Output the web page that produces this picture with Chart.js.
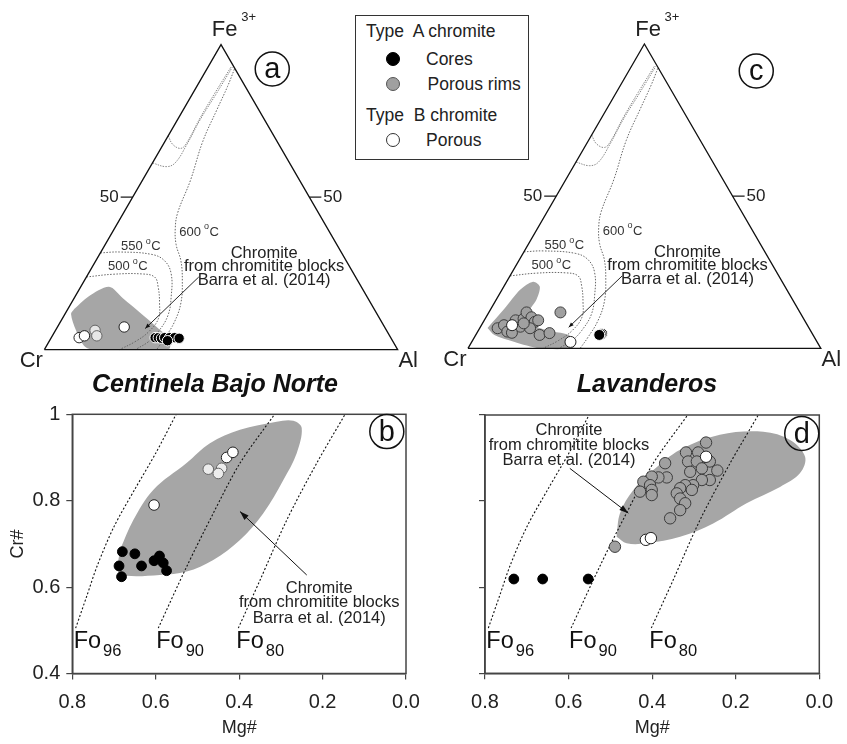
<!DOCTYPE html>
<html lang="en">
<head>
<meta charset="utf-8">
<title>Chromite compositions – Centinela Bajo Norte and Lavanderos</title>
<script src="https://cdn.jsdelivr.net/npm/chart.js@4.4.1/dist/chart.umd.min.js"></script>
<style>
  html,body{margin:0;padding:0;background:#fff;}
  body{position:relative;width:847px;height:744px;overflow:hidden;font-family:"Liberation Sans",Arial,Helvetica,sans-serif;color:#222;}
  canvas{position:absolute;display:block;}
  #ca{left:0;top:0;} #cc{left:423px;top:0;} #cb{left:0;top:392px;} #cd{left:423px;top:392px;}
  .title{position:absolute;top:368px;height:30px;line-height:30px;font-weight:bold;font-style:italic;font-size:25px;text-align:center;color:#111;white-space:nowrap;}
  #legend{position:absolute;left:355px;top:15px;width:174px;height:145px;border:1.5px solid #333;background:#fff;box-sizing:border-box;}
  #legend .t{position:absolute;font-size:17.5px;line-height:20px;white-space:nowrap;color:#222;}
  #legend .m{position:absolute;width:14px;height:14px;border-radius:50%;box-sizing:border-box;}
</style>
</head>
<body>
<canvas id="ca" width="423" height="378"></canvas>
<canvas id="cc" width="424" height="378"></canvas>
<canvas id="cb" width="423" height="352"></canvas>
<canvas id="cd" width="424" height="352"></canvas>

<div class="title" style="left:0;width:430px;">Centinela Bajo Norte</div>
<div class="title" style="left:497px;width:300px;">Lavanderos</div>

<div id="legend">
  <div class="t" style="left:10px;top:5px;">Type&nbsp; A chromite</div>
  <div class="m" style="left:29.5px;top:35.5px;background:#000;border:1px solid #000;"></div>
  <div class="t" style="left:70px;top:32.5px;">Cores</div>
  <div class="m" style="left:29.5px;top:61px;background:#a0a0a0;border:1px solid #555;"></div>
  <div class="t" style="left:71.5px;top:58px;">Porous rims</div>
  <div class="t" style="left:10px;top:88.5px;">Type&nbsp; B chromite</div>
  <div class="m" style="left:29.5px;top:116.5px;background:#fff;border:1px solid #333;"></div>
  <div class="t" style="left:70px;top:113.5px;">Porous</div>
</div>

<script>
// ======================= DATA =======================
// Ternary diagrams: values in % ; Cr = 100 - Al - Fe3+
const triAl = [0, 100, 0, 0];
const triFe = [0, 0, 100, 0];
const ternTicksFe = [50];

// temperature isolines (same template in a and c)
const iso500_Al = [0, 7.1, 15.2, 19.3, 21.9, 25.0, 27.2, 26.6, 24.4, 21.3];
const iso500_Fe = [23.8, 24.7, 24.8, 23.8, 20.6, 15.2, 10.2, 5.8, 2.6, 0];
const iso550_Al = [0, 5.3, 14.8, 19.5, 23.5, 27.2, 29.4, 29.3, 28.2, 25.8];
const iso550_Fe = [31.7, 32.0, 31.2, 29.1, 24.8, 17.4, 11.1, 5.8, 2.6, 0];
const iso600_Al = [7.8, 8.7, 9.5, 10.7, 13.6, 15.3, 17.2, 20.1, 24.1, 27.7, 31.0, 32.3, 32.2, 31.8];
const iso600_Fe = [92.0, 86.3, 78.7, 68.3, 55.5, 44.9, 39.7, 34.4, 29.1, 22.7, 15.3, 9.0, 3.7, 0];
const isoUp1_Al = [0, 2.8, 5.7, 6.4, 6.1, 6.2, 6.5];
const isoUp1_Fe = [70.1, 67.2, 66.0, 67.9, 76.1, 84.1, 92.9];
const isoUp2_Al = [0, 4.5, 6.4, 6.7, 6.4, 6.7, 6.9];
const isoUp2_Fe = [61.2, 60.0, 61.2, 67.2, 75.5, 83.7, 92.6];
const ternArrow_Al = [31.8, 25.1];
const ternArrow_Fe = [23.8, 6.9];

// (a) Centinela Bajo Norte – ternary
const a_cores_Al = [29.4, 30.3, 31.3, 32.1, 33.5, 34.9, 36.3, 33.4];
const a_cores_Fe = [3.9, 3.9, 3.7, 3.9, 3.9, 3.9, 3.7, 2.9];
const a_rims_Al = [11.2, 12.6];
const a_rims_Fe = [6.3, 4.5];
const a_typeB_Al = [7.9, 9.1, 18.9];
const a_typeB_Fe = [3.9, 4.5, 7.4];
const a_field_Al = [1.8, 3.8, 8.0, 13.7, 21.8, 28.1, 32.9, 35.2, 24.9, 13.4, 10.5, 5.8, 1.7];
const a_field_Fe = [13.3, 17.4, 20.6, 16.9, 11.6, 7.4, 3.9, 0.3, 0, 0, 1.3, 6.3, 11.7];

// (c) Lavanderos – ternary
const c_cores_Al = [35.6, 35.3, 35.0];
const c_cores_Fe = [4.8, 4.6, 4.4];
const c_rims_Al = [5.1, 6.4, 8.4, 8.9, 11.3, 10.9, 10.7, 12.9, 14.6, 15.3, 14.3, 18.1, 20.6, 20.3, 11.7, 9.9];
const c_rims_Fe = [6.6, 7.6, 5.5, 9.2, 7.1, 9.7, 11.8, 10.2, 8.7, 9.2, 6.6, 4.4, 5.0, 11.8, 8.2, 5.1];
const c_typeB_Al = [8.7, 28.0];
const c_typeB_Fe = [7.6, 2.1];
const c_field_Al = [2.2, 3.8, 5.2, 7.5, 10.2, 11.4, 11.4, 15.4, 21.2, 26.3, 29.5, 29.5, 20.4, 11.9, 5.3];
const c_field_Fe = [6.7, 12.9, 19.3, 21.9, 20.3, 16.1, 10.8, 7.3, 5.5, 4.4, 1.8, 0, 0, 2.2, 4.4];

// Cr# vs Mg# diagrams
const mgTicks = [0.8, 0.6, 0.4, 0.2, 0.0];
const crTicks = [0.4, 0.6, 0.8, 1.0];
const fo96_Mg = [0.792, 0.765, 0.740, 0.700, 0.648, 0.600, 0.551];
const fo96_Cr = [0.505, 0.580, 0.650, 0.740, 0.830, 0.910, 1.000];
const fo90_Mg = [0.594, 0.526, 0.462, 0.398, 0.315];
const fo90_Cr = [0.505, 0.647, 0.771, 0.887, 1.000];
const fo80_Mg = [0.402, 0.350, 0.286, 0.214, 0.146];
const fo80_Cr = [0.505, 0.616, 0.755, 0.887, 1.000];
const foNames = ['96', '90', '80'];

// (b) Centinela Bajo Norte
const b_cores_Mg = [0.680, 0.688, 0.682, 0.650, 0.634, 0.604, 0.591, 0.582, 0.574];
const b_cores_Cr = [0.682, 0.649, 0.624, 0.677, 0.649, 0.661, 0.672, 0.656, 0.638];
const b_rims_Mg = [0.474, 0.442, 0.450];
const b_rims_Cr = [0.873, 0.875, 0.863];
const b_typeB_Mg = [0.604, 0.430, 0.415];
const b_typeB_Cr = [0.790, 0.900, 0.912];
const b_field_Mg = [0.686, 0.654, 0.606, 0.526, 0.470, 0.398, 0.310, 0.270, 0.250, 0.262, 0.294, 0.342, 0.398, 0.462, 0.526, 0.590, 0.670, 0.690];
const b_field_Cr = [0.686, 0.755, 0.825, 0.887, 0.933, 0.964, 0.983, 0.985, 0.968, 0.910, 0.848, 0.771, 0.709, 0.663, 0.636, 0.628, 0.626, 0.636];
const b_arrow_Mg = [0.238, 0.398];
const b_arrow_Cr = [0.628, 0.775];

// (d) Lavanderos
const d_cores_Mg = [0.731, 0.662, 0.553];
const d_cores_Cr = [0.619, 0.619, 0.619];
const d_rims_Mg = [0.271, 0.319, 0.290, 0.314, 0.293, 0.262, 0.281, 0.244, 0.309, 0.369, 0.365, 0.385, 0.401, 0.421, 0.405, 0.401, 0.429, 0.401, 0.262, 0.281, 0.302, 0.321, 0.333, 0.341, 0.305, 0.333, 0.321, 0.333, 0.357, 0.489];
const d_rims_Cr = [0.936, 0.913, 0.913, 0.892, 0.892, 0.892, 0.876, 0.871, 0.868, 0.888, 0.855, 0.855, 0.857, 0.845, 0.837, 0.826, 0.822, 0.814, 0.849, 0.849, 0.837, 0.837, 0.830, 0.818, 0.826, 0.806, 0.795, 0.779, 0.760, 0.694];
const d_typeB_Mg = [0.271, 0.415, 0.403];
const d_typeB_Cr = [0.903, 0.710, 0.714];
const d_field_Mg = [0.485, 0.477, 0.445, 0.397, 0.333, 0.238, 0.134, 0.070, 0.034, 0.046, 0.094, 0.174, 0.254, 0.333, 0.413, 0.461];
const d_field_Cr = [0.717, 0.772, 0.826, 0.872, 0.919, 0.954, 0.961, 0.942, 0.903, 0.865, 0.833, 0.795, 0.748, 0.717, 0.702, 0.702];
const d_arrow_Mg = [0.597, 0.457];
const d_arrow_Cr = [0.876, 0.772];

const fieldText = ['Chromite', 'from chromitite blocks', 'Barra et al. (2014)'];

// ======================= HELPERS =======================
const FONT = '"Liberation Sans", Arial, Helvetica, sans-serif';
const PX = 364;                     // pixels per ternary unit (side length)
const K = Math.sqrt(3) / 2;
const T = (al, fe) => ({x: (al + fe / 2) / 100, y: fe / 100 * K});
const tpts = (A, F) => A.map((a, i) => T(a, F[i]));
const xy = (X, Y) => X.map((x, i) => ({x: x, y: Y[i]}));
const closed = arr => arr.concat([arr[0]]);

function lineDS(data, color, width, dash, order, extra) {
  return Object.assign({type: 'line', data: data, borderColor: color, borderWidth: width, borderDash: dash || [],
    pointRadius: 0, pointHoverRadius: 0, fill: false, tension: 0, order: order}, extra || {});
}
function pointDS(data, bg, border, r, order, bw) {
  return {type: 'scatter', data: data, backgroundColor: bg, borderColor: border,
    borderWidth: bw == null ? 1 : bw, pointRadius: r, pointHoverRadius: r, order: order};
}
function put(ctx, s, x, y, size, align, base, weight, color) {
  ctx.font = (weight ? weight + ' ' : '') + size + 'px ' + FONT;
  ctx.textAlign = align || 'left';
  ctx.textBaseline = base || 'middle';
  ctx.fillStyle = color || '#222';
  ctx.fillText(s, x, y);
  return ctx.measureText(s).width;
}
function circledLetter(ctx, ch, x, y, r) {
  ctx.beginPath(); ctx.arc(x, y, r, 0, Math.PI * 2);
  ctx.lineWidth = 1.5; ctx.strokeStyle = '#111'; ctx.stroke();
  put(ctx, ch, x, y + 1, 29, 'center', 'middle', '', '#111');
}
function arrowHead(ctx, x0, y0, x1, y1, len, half) {
  const a = Math.atan2(y1 - y0, x1 - x0), c = Math.cos(a), s = Math.sin(a);
  ctx.beginPath(); ctx.moveTo(x1, y1);
  ctx.lineTo(x1 - len * c + half * s, y1 - len * s - half * c);
  ctx.lineTo(x1 - len * c - half * s, y1 - len * s + half * c);
  ctx.closePath(); ctx.fillStyle = '#111'; ctx.fill();
}
function tempLabel(ctx, num, x, y) {
  let w = put(ctx, num, x, y, 13, 'left', 'middle', '', '#333') + 3;
  const w2 = put(ctx, 'o', x + w, y - 5, 9, 'left', 'middle', '', '#333');
  put(ctx, 'C', x + w + w2 + 0.5, y, 13, 'left', 'middle', '', '#333');
}

const drawers = {};
Chart.register({
  id: 'annot',
  afterDatasetsDraw(chart) { const f = drawers[chart.canvas.id]; if (f) { chart.ctx.save(); f(chart); chart.ctx.restore(); } }
});

// ======================= TERNARY =======================
function ternaryDrawer(letter, LX, LY) {
  return chart => {
    const ctx = chart.ctx, sx = chart.scales.x, sy = chart.scales.y;
    const P = (X, Y) => [sx.getPixelForValue(X), sy.getPixelForValue(Y)];
    let p;
    p = P(-0.004, -0.033); put(ctx, 'Cr', p[0], p[1], 22, 'right');
    p = P(1.002, -0.033); put(ctx, 'Al', p[0], p[1], 22, 'left');
    p = P(0.474, 0.907); put(ctx, 'Fe', p[0], p[1], 22, 'left');
    p = P(0.557, 0.942); put(ctx, '3+', p[0], p[1], 13, 'left');
    ternTicksFe.forEach(fe => {
      const l = T(0, fe), r = T(100 - fe, fe);
      const pl = P(l.x, l.y), pr = P(r.x, r.y);
      ctx.strokeStyle = '#111'; ctx.lineWidth = 1.2;
      ctx.beginPath(); ctx.moveTo(pl[0], pl[1]); ctx.lineTo(pl[0] - 12, pl[1]); ctx.stroke();
      ctx.beginPath(); ctx.moveTo(pr[0], pr[1]); ctx.lineTo(pr[0] + 12, pr[1]); ctx.stroke();
      put(ctx, String(fe), pl[0] - 14, pl[1], 17, 'right');
      put(ctx, String(fe), pr[0] + 14, pr[1], 17, 'left');
    });
    p = P(0.382, 0.334); tempLabel(ctx, '600', p[0], p[1]);
    p = P(0.217, 0.293); tempLabel(ctx, '550', p[0], p[1]);
    p = P(0.180, 0.235); tempLabel(ctx, '500', p[0], p[1]);
    const tY = [0.272, 0.235, 0.197];
    fieldText.forEach((s, i) => { const q = P(0.622, tY[i]); put(ctx, s, q[0], q[1], 16.5, 'center', 'middle', '', '#222'); });
    const a0 = T(ternArrow_Al[0], ternArrow_Fe[0]), a1 = T(ternArrow_Al[1], ternArrow_Fe[1]);
    const q0 = P(a0.x, a0.y), q1 = P(a1.x, a1.y);
    arrowHead(ctx, q0[0], q0[1], q1[0], q1[1], 5, 2);
    p = P(LX, LY); circledLetter(ctx, letter, p[0], p[1], 17);
  };
}

function makeTernary(id, W, H, ox, oy, d, letter, LX, LY) {
  drawers[id] = ternaryDrawer(letter, LX, LY);
  const ds = [
    pointDS(tpts(d.typeBAl, d.typeBFe), '#fff', '#222', d.r, 0),
    pointDS(tpts(d.coresAl, d.coresFe), '#000', '#fff', d.r, 1),
    pointDS(tpts(d.rimsAl, d.rimsFe), d.rimsBg, d.rimsBorder, d.r, 2),
    lineDS(tpts(triAl, triFe), '#111', 1.3, [], 4),
    lineDS(tpts(ternArrow_Al, ternArrow_Fe), '#111', 0.9, [], 5),
    lineDS(tpts(iso500_Al, iso500_Fe), '#666', 1, [1.5, 1.5], 6, {tension: 0.4}),
    lineDS(tpts(iso550_Al, iso550_Fe), '#666', 1, [1.5, 1.5], 7, {tension: 0.4}),
    lineDS(tpts(iso600_Al, iso600_Fe), '#666', 1, [1.5, 1.5], 8, {tension: 0.4}),
    lineDS(tpts(isoUp1_Al, isoUp1_Fe), '#888', 1, [1.5, 1.2], 9, {tension: 0.4}),
    lineDS(tpts(isoUp2_Al, isoUp2_Fe), '#888', 1, [1.5, 1.2], 10, {tension: 0.4}),
    lineDS(closed(tpts(d.fieldAl, d.fieldFe)), 'rgba(0,0,0,0)', 0, [], 20,
      {fill: 'shape', backgroundColor: '#a6a6a6', tension: 0.3})
  ];
  return new Chart(document.getElementById(id), {
    type: 'scatter',
    data: {datasets: ds},
    options: {
      responsive: false, animation: false, events: [],
      layout: {padding: 0},
      plugins: {legend: {display: false}, tooltip: {enabled: false}},
      scales: {
        x: {type: 'linear', display: false, min: -ox / PX, max: (W - ox) / PX},
        y: {type: 'linear', display: false, min: -(H - oy) / PX, max: oy / PX}
      }
    }
  });
}

makeTernary('ca', 423, 378, 39.3, 355, {
  coresAl: a_cores_Al, coresFe: a_cores_Fe, rimsAl: a_rims_Al, rimsFe: a_rims_Fe,
  typeBAl: a_typeB_Al, typeBFe: a_typeB_Fe, fieldAl: a_field_Al, fieldFe: a_field_Fe,
  rimsBg: '#e6e6e6', rimsBorder: '#666', r: 5.2
}, 'a', 0.645, 0.797);

makeTernary('cc', 424, 378, 39.7, 354, {
  coresAl: c_cores_Al, coresFe: c_cores_Fe, rimsAl: c_rims_Al, rimsFe: c_rims_Fe,
  typeBAl: c_typeB_Al, typeBFe: c_typeB_Fe, fieldAl: c_field_Al, fieldFe: c_field_Fe,
  rimsBg: '#a0a0a0', rimsBorder: '#3c3c3c', r: 5.5
}, 'c', 0.817, 0.789);

// ======================= Cr# vs Mg# =======================
function xyDrawer(letter, LX, LY, textMg, textCr, arrMg, arrCr) {
  return chart => {
    const ctx = chart.ctx, sx = chart.scales.x, sy = chart.scales.y, A = chart.chartArea;
    const P = (X, Y) => [sx.getPixelForValue(X), sy.getPixelForValue(Y)];
    ctx.strokeStyle = '#444'; ctx.lineWidth = 1.5;
    ctx.strokeRect(A.left, A.top, A.right - A.left, A.bottom - A.top);
    [[fo96_Mg, fo96_Cr], [fo90_Mg, fo90_Cr], [fo80_Mg, fo80_Cr]].forEach((f, i) => {
      const p = P(f[0][0], f[1][0]);
      const w = put(ctx, 'Fo', p[0] - 2, p[1] + 20, 23.5, 'left', 'alphabetic', '', '#111');
      put(ctx, foNames[i], p[0] - 2 + w + 2, p[1] + 28, 16.5, 'left', 'alphabetic', '', '#111');
    });
    fieldText.forEach((s, i) => { const q = P(textMg, textCr[i]); put(ctx, s, q[0], q[1], 16.5, 'center', 'middle', '', '#222'); });
    const q0 = P(arrMg[0], arrCr[0]), q1 = P(arrMg[1], arrCr[1]);
    arrowHead(ctx, q0[0], q0[1], q1[0], q1[1], 9, 3);
    const p = P(LX, LY); circledLetter(ctx, letter, p[0], p[1], 17);
  };
}

function makeXY(id, W, H, area, d, showY, letter, LX, LY, textMg, textCr) {
  drawers[id] = xyDrawer(letter, LX, LY, textMg, textCr, d.arrMg, d.arrCr);
  const ds = [
    pointDS(xy(d.typeBMg, d.typeBCr), '#fff', '#222', d.r, 0),
    pointDS(xy(d.coresMg, d.coresCr), '#000', '#000', d.rc, 1),
    pointDS(xy(d.rimsMg, d.rimsCr), d.rimsBg, d.rimsBorder, d.r, 2),
    lineDS(xy(d.arrMg, d.arrCr), '#111', 1, [], 4),
    lineDS(xy(fo96_Mg, fo96_Cr), '#111', 1.1, [2, 2], 5, {tension: 0.3}),
    lineDS(xy(fo90_Mg, fo90_Cr), '#111', 1.1, [2, 2], 6, {tension: 0.3}),
    lineDS(xy(fo80_Mg, fo80_Cr), '#111', 1.1, [2, 2], 7, {tension: 0.3}),
    lineDS(closed(xy(d.fieldMg, d.fieldCr)), 'rgba(0,0,0,0)', 0, [], 20,
      {fill: 'shape', backgroundColor: '#a6a6a6', tension: 0.35})
  ];
  const tickFont = {size: 20, family: FONT};
  return new Chart(document.getElementById(id), {
    type: 'scatter',
    data: {datasets: ds},
    options: {
      responsive: false, animation: false, events: [],
      layout: {padding: {left: 0, top: area.top, right: W - area.right, bottom: 0}},
      plugins: {legend: {display: false}, tooltip: {enabled: false}},
      scales: {
        x: {
          type: 'linear', min: 0, max: 0.8, reverse: true,
          afterFit: s => { s.height = H - area.bottom; s.paddingLeft = 0; s.paddingRight = 0; },
          afterBuildTicks: s => { s.ticks = mgTicks.map(v => ({value: v})); },
          ticks: {color: '#222', font: tickFont, padding: 11, maxRotation: 0, autoSkip: false,
                  callback: v => Number(v).toFixed(1)},
          grid: {drawOnChartArea: false, drawTicks: true, tickLength: 6, color: '#444', lineWidth: 1.2},
          border: {display: true, color: '#444', width: 1.5},
          title: {display: true, text: 'Mg#', color: '#222', font: {size: 18, family: FONT}, padding: {top: 0, bottom: 5}}
        },
        y: {
          type: 'linear', min: 0.4, max: 1.0,
          afterFit: s => { s.width = area.left; s.paddingTop = 0; s.paddingBottom = 0; },
          afterBuildTicks: s => { s.ticks = crTicks.map(v => ({value: v})); },
          ticks: {color: '#222', font: tickFont, padding: 6, autoSkip: false,
                  callback: v => showY ? (Math.abs(v - 1) < 1e-9 ? '1' : Number(v).toFixed(1)) : ''},
          grid: {drawOnChartArea: false, drawTicks: true, tickLength: 6, color: '#444', lineWidth: 1.2},
          border: {display: true, color: '#444', width: 1.5},
          title: {display: showY, text: 'Cr#', color: '#222', font: {size: 18, family: FONT}, padding: {top: 7, bottom: 0}}
        }
      }
    }
  });
}

makeXY('cb', 423, 352, {left: 72.3, top: 22.3, right: 406, bottom: 281.5}, {
  coresMg: b_cores_Mg, coresCr: b_cores_Cr, rimsMg: b_rims_Mg, rimsCr: b_rims_Cr,
  typeBMg: b_typeB_Mg, typeBCr: b_typeB_Cr, fieldMg: b_field_Mg, fieldCr: b_field_Cr,
  arrMg: b_arrow_Mg, arrCr: b_arrow_Cr, rimsBg: '#ececec', rimsBorder: '#666', r: 5.3, rc: 4.9
}, true, 'b', 0.046, 0.960, 0.208, [0.597, 0.564, 0.528]);

makeXY('cd', 424, 352, {left: 62, top: 23, right: 396.3, bottom: 281.3}, {
  coresMg: d_cores_Mg, coresCr: d_cores_Cr, rimsMg: d_rims_Mg, rimsCr: d_rims_Cr,
  typeBMg: d_typeB_Mg, typeBCr: d_typeB_Cr, fieldMg: d_field_Mg, fieldCr: d_field_Cr,
  arrMg: d_arrow_Mg, arrCr: d_arrow_Cr, rimsBg: '#a0a0a0', rimsBorder: '#3c3c3c', r: 5.7, rc: 4.9
}, false, 'd', 0.042, 0.957, 0.599, [0.965, 0.930, 0.895]);
</script>
</body>
</html>
